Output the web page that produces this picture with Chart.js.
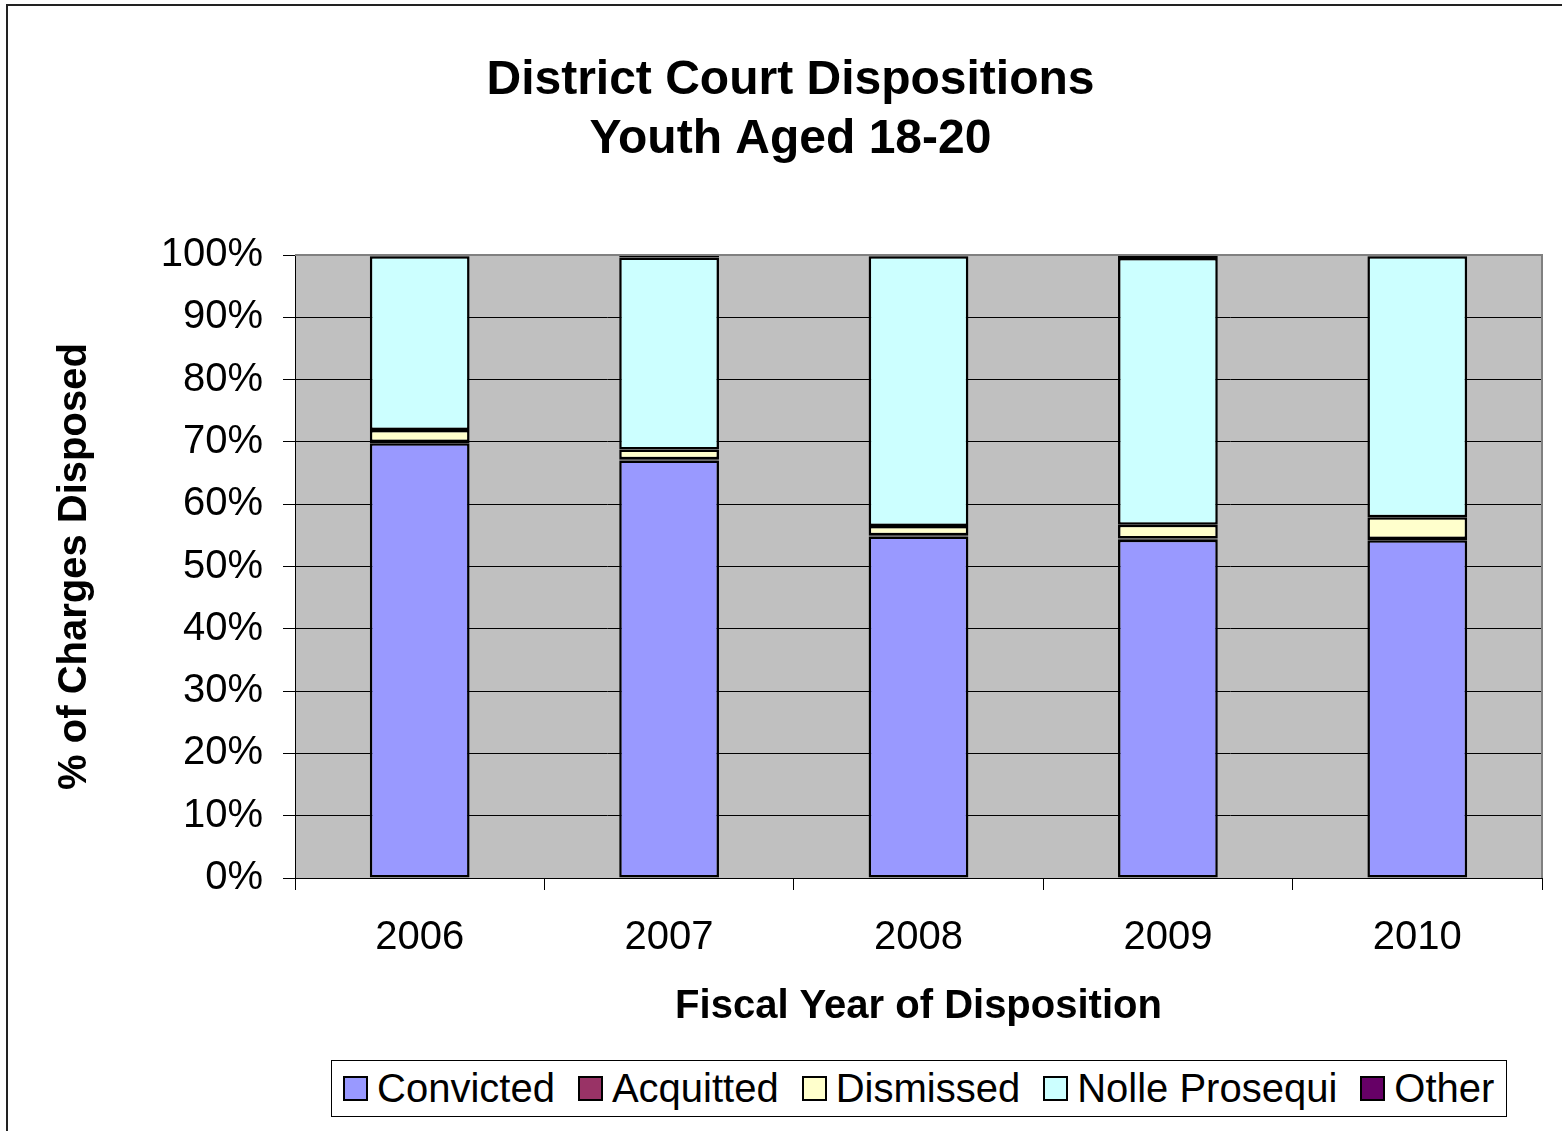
<!DOCTYPE html>
<html>
<head>
<meta charset="utf-8">
<script src="https://cdn.jsdelivr.net/npm/chart.js@4.4.1/dist/chart.umd.min.js"></script>
<style>
  html, body { margin:0; padding:0; background:#fff; width:1562px; height:1131px; overflow:hidden; }
  #frame { position:absolute; left:6px; top:4px; width:1700px; height:1300px; border-top:2px solid #222; border-left:2px solid #222; box-sizing:border-box; }
  #wrap { position:absolute; left:7px; top:5px; width:1567px; height:1126px; }
  #legend { position:absolute; left:331px; top:1060px; width:1176px; height:57px; border:1px solid #000; box-sizing:border-box;
            display:flex; align-items:center; padding-left:11px; font-family:"Liberation Sans", Arial, sans-serif; font-size:40px; color:#000; background:#fff; }
  .item { display:flex; align-items:center; margin-right:23px; white-space:nowrap; }
  .sw { width:25px; height:25px; box-sizing:border-box; border:2px solid #000; margin-right:9px; }
</style>
</head>
<body>
<div id="frame"></div>
<div id="wrap"><canvas id="c" width="1567" height="1126"></canvas></div>
<div id="legend"></div>
<script>
const categories = ['2006', '2007', '2008', '2009', '2010'];
const seriesNames = ['Convicted', 'Acquitted', 'Dismissed', 'Nolle Prosequi', 'Other'];
const convicted = [69.8, 67.0, 54.8, 54.3, 54.2];
const acquitted = [0.2, 0.2, 0.2, 0.2, 0.2];
const dismissed = [1.9, 1.6, 1.5, 2.2, 3.5];
const nolle = [27.9, 30.8, 43.3, 42.8, 41.9];
const other = [0.2, 0.4, 0.2, 0.5, 0.2];
const yTicks = [0, 10, 20, 30, 40, 50, 60, 70, 80, 90, 100];
const colors = ['#9999FF', '#993366', '#FFFFCC', '#CCFFFF', '#660066'];

const FONT = '"Liberation Sans", Arial, sans-serif';
const seriesData = [convicted, acquitted, dismissed, nolle, other];

const datasets = seriesNames.map((n, i) => ({
  label: n,
  data: seriesData[i],
  backgroundColor: colors[i],
  borderColor: '#000',
  borderWidth: 2.5,
  borderSkipped: false,
  barPercentage: 0.4,
  categoryPercentage: 1.0,
  yAxisID: 'y'
}));

// HTML legend
const leg = document.getElementById('legend');
seriesNames.forEach((n, i) => {
  const it = document.createElement('div'); it.className = 'item';
  const sw = document.createElement('div'); sw.className = 'sw'; sw.style.background = colors[i];
  const tx = document.createElement('span'); tx.textContent = n;
  it.appendChild(sw); it.appendChild(tx); leg.appendChild(it);
});

const plotBg = {
  id: 'plotBg',
  beforeDraw(chart) {
    const {ctx, chartArea: a} = chart;
    ctx.save();
    ctx.fillStyle = '#C0C0C0';
    ctx.fillRect(a.left, a.top, a.right - a.left, a.bottom - a.top);
    ctx.restore();
  },
  afterDatasetsDraw(chart) {
    const {ctx, chartArea: a} = chart;
    ctx.save();
    ctx.strokeStyle = '#808080';
    ctx.lineWidth = 2;
    ctx.beginPath();
    ctx.moveTo(a.left, a.top);
    ctx.lineTo(a.right, a.top);
    ctx.lineTo(a.right, a.bottom);
    ctx.stroke();
    ctx.restore();
  }
};

new Chart(document.getElementById('c'), {
  type: 'bar',
  data: { labels: categories, datasets },
  plugins: [plotBg],
  options: {
    responsive: false,
    animation: false,
    layout: { padding: { left: 0, right: 0, top: 0, bottom: 96 } },
    plugins: {
      legend: { display: false },
      tooltip: { enabled: false },
      title: {
        display: true,
        text: ['District Court Dispositions', 'Youth Aged 18-20'],
        color: '#000',
        font: { family: FONT, size: 48, weight: 'bold', lineHeight: 59/48 },
        padding: { top: 46, bottom: 86 }
      }
    },
    scales: {
      x: {
        stacked: true,
        grid: { display: true, drawOnChartArea: false, offset: true, tickLength: 12, tickColor: '#000', lineWidth: 1 },
        border: { color: '#000', width: 1 },
        ticks: { color: '#000', font: { family: FONT, size: 40 }, padding: 24, maxRotation: 0 },
        title: { display: true, text: 'Fiscal Year of Disposition', color: '#000',
                 font: { family: FONT, size: 40, weight: 'bold' }, padding: { top: 0, bottom: 4 } },
        afterFit(s) { s.height = 157; }
      },
      y: {
        stacked: true,
        min: 0, max: 100,
        afterBuildTicks(s) { s.ticks = yTicks.map(v => ({ value: v })); },
        grid: { color: '#000', lineWidth: 1, tickLength: 12, tickColor: '#000' },
        border: { color: '#000', width: 1 },
        ticks: { color: '#000', font: { family: FONT, size: 40 }, padding: 20, callback: v => v + '%' },
        title: { display: true, text: '% of Charges Disposed', color: '#000',
                 font: { family: FONT, size: 40, weight: 'bold' }, padding: { top: 44, bottom: 0 } },
        afterFit(s) { s.width = 288; }
      },
      yRightSpace: {
        type: 'linear',
        position: 'right',
        display: true,
        min: 0, max: 100,
        grid: { display: false, drawTicks: false },
        border: { display: false },
        ticks: { display: false },
        afterFit(s) { s.width = 32; }
      }
    }
  }
});
</script>
</body>
</html>
